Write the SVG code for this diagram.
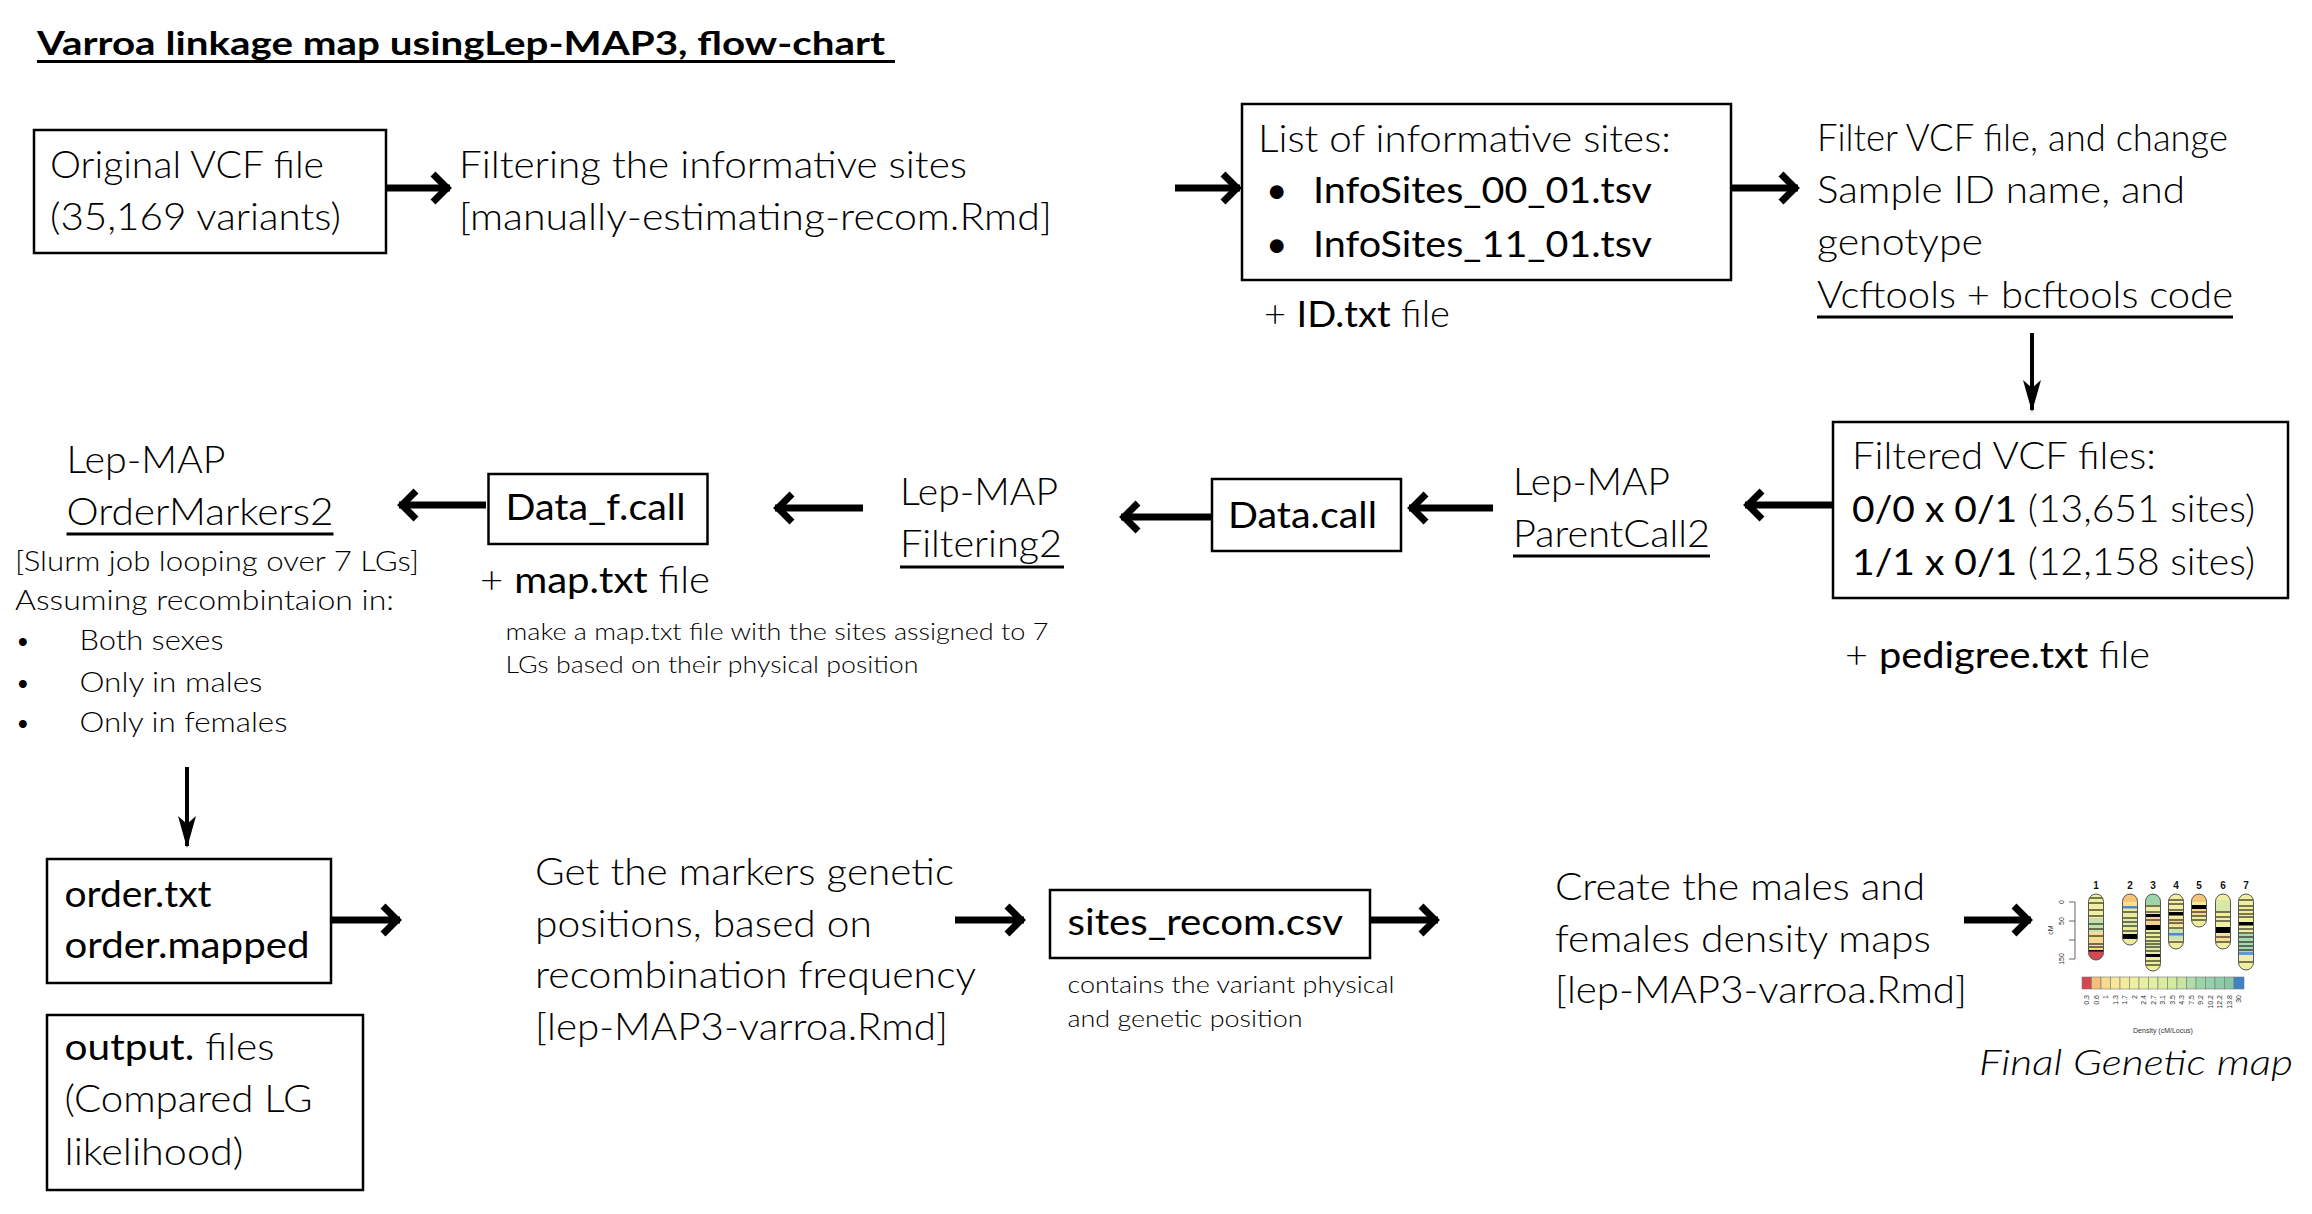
<svg xmlns="http://www.w3.org/2000/svg" width="2312" height="1214" viewBox="0 0 2312 1214">
<style>
text{font-family:Lato,"Open Sans","Liberation Sans",sans-serif;fill:#000}
.t{font-size:37px;font-weight:300}
.r{font-weight:400}
.s{font-size:27px;font-weight:300}
.xs{font-size:23px;font-weight:300}
.ttl{font-size:32px;font-weight:700}
.it{font-size:36px;font-weight:300;font-style:italic}
.box{fill:#fff;stroke:#000;stroke-width:2.5}
.ul{stroke:#000;stroke-width:3}
.arr{stroke:#000;stroke-width:7;fill:none;marker-end:url(#ah)}
.arrs{stroke:#000;stroke-width:4;fill:none;marker-end:url(#ahs)}
.gm{font-family:"Liberation Sans",Arial,sans-serif;font-size:7px;fill:#333}
.gmn{font-family:"Liberation Sans",Arial,sans-serif;font-size:10px;font-weight:700;fill:#111}
.chr{stroke:#555;stroke-width:1}
.cell{stroke:#777;stroke-width:0.6}
</style>
<defs>
<marker id="ah" viewBox="-22 -22 44 44" markerWidth="44" markerHeight="44" refX="0" refY="0" orient="auto" markerUnits="userSpaceOnUse" overflow="visible">
<path d="M-17,-14 L-3,0 L-17,14" fill="none" stroke="#000" stroke-width="7"/>
</marker>
<marker id="ahs" viewBox="-34 -12 40 24" markerWidth="40" markerHeight="24" refX="0" refY="0" orient="auto" markerUnits="userSpaceOnUse" overflow="visible">
<path d="M2,0 L-30,-9 L-22,0 L-30,9 Z" fill="#000"/>
</marker>
<clipPath id="k1"><rect x="2088.5" y="894" width="15" height="66" rx="7.5"/></clipPath>
<clipPath id="k2"><rect x="2122.5" y="894" width="15" height="51" rx="7.5"/></clipPath>
<clipPath id="k3"><rect x="2145.5" y="894" width="15" height="77" rx="7.5"/></clipPath>
<clipPath id="k4"><rect x="2168.5" y="894" width="15" height="55" rx="7.5"/></clipPath>
<clipPath id="k5"><rect x="2191.5" y="894" width="15" height="33" rx="7.5"/></clipPath>
<clipPath id="k6"><rect x="2215.5" y="894" width="15" height="55" rx="7.5"/></clipPath>
<clipPath id="k7"><rect x="2238.5" y="894" width="15" height="76" rx="7.5"/></clipPath>
</defs>
<rect width="2312" height="1214" fill="#fff"/>

<g id="title">
<text class="ttl" x="37" y="55" textLength="848" lengthAdjust="spacingAndGlyphs">Varroa linkage map usingLep-MAP3, flow-chart</text>
<line class="ul" x1="37" y1="61.5" x2="895" y2="61.5"/>
</g>

<g id="connectors">
<line class="arr" x1="386" y1="188" x2="450" y2="188"/>
<line class="arr" x1="1175" y1="188" x2="1240" y2="188"/>
<line class="arr" x1="1731" y1="188" x2="1798" y2="188"/>
<line class="arrs" x1="2032" y1="333" x2="2032" y2="410"/>
<line class="arr" x1="1833" y1="505" x2="1745" y2="505"/>
<line class="arr" x1="1493" y1="508" x2="1409" y2="508"/>
<line class="arr" x1="1212" y1="517" x2="1121" y2="517"/>
<line class="arr" x1="863" y1="508" x2="775" y2="508"/>
<line class="arr" x1="486" y1="505" x2="399" y2="505"/>
<line class="arrs" x1="187" y1="767" x2="187" y2="846"/>
<line class="arr" x1="331" y1="920" x2="400" y2="920"/>
<line class="arr" x1="955" y1="920" x2="1024" y2="920"/>
<line class="arr" x1="1370" y1="920" x2="1438" y2="920"/>
<line class="arr" x1="1964" y1="920" x2="2031" y2="920"/>
</g>

<g id="original-vcf">
<rect class="box" x="34" y="130" width="352" height="123"/>
<text class="t" x="50" y="178" textLength="274" lengthAdjust="spacingAndGlyphs">Original VCF file</text>
<text class="t" x="50" y="230" textLength="291" lengthAdjust="spacingAndGlyphs">(35,169 variants)</text>
</g>

<g id="filtering-informative">
<text class="t" x="459" y="178" textLength="508" lengthAdjust="spacingAndGlyphs">Filtering the informative sites</text>
<text class="t" x="459" y="230" textLength="593" lengthAdjust="spacingAndGlyphs">[manually-estimating-recom.Rmd]</text>
</g>

<g id="info-sites">
<rect class="box" x="1242" y="104" width="489" height="176"/>
<text class="t" x="1258" y="152" textLength="413" lengthAdjust="spacingAndGlyphs">List of informative sites:</text>
<text class="t r" x="1266" y="203">•</text>
<text class="t r" x="1313" y="203" textLength="339" lengthAdjust="spacingAndGlyphs">InfoSites_00_01.tsv</text>
<text class="t r" x="1266" y="257">•</text>
<text class="t r" x="1313" y="257" textLength="339" lengthAdjust="spacingAndGlyphs">InfoSites_11_01.tsv</text>
<text class="t" x="1264" y="327" textLength="186" lengthAdjust="spacingAndGlyphs">+ <tspan class="r">ID.txt</tspan> file</text>
</g>

<g id="filter-vcf">
<text class="t" x="1817" y="151" textLength="411" lengthAdjust="spacingAndGlyphs">Filter VCF file, and change</text>
<text class="t" x="1817" y="203" textLength="368" lengthAdjust="spacingAndGlyphs">Sample ID name, and</text>
<text class="t" x="1817" y="255" textLength="166" lengthAdjust="spacingAndGlyphs">genotype</text>
<text class="t" x="1817" y="308" textLength="416" lengthAdjust="spacingAndGlyphs">Vcftools + bcftools code</text>
<line class="ul" x1="1817" y1="317" x2="2233" y2="317"/>
</g>

<g id="filtered-vcf">
<rect class="box" x="1833" y="422" width="455" height="176"/>
<text class="t" x="1852" y="469" textLength="304" lengthAdjust="spacingAndGlyphs">Filtered VCF files:</text>
<text class="t" x="1852" y="522" textLength="403" lengthAdjust="spacingAndGlyphs"><tspan class="r">0/0 x 0/1</tspan> (13,651 sites)</text>
<text class="t" x="1852" y="575" textLength="403" lengthAdjust="spacingAndGlyphs"><tspan class="r">1/1 x 0/1</tspan> (12,158 sites)</text>
<text class="t" x="1845" y="668" textLength="305" lengthAdjust="spacingAndGlyphs">+ <tspan class="r">pedigree.txt</tspan> file</text>
</g>

<g id="parentcall2">
<text class="t" x="1513" y="495" textLength="157" lengthAdjust="spacingAndGlyphs">Lep-MAP</text>
<text class="t" x="1513" y="547" textLength="197" lengthAdjust="spacingAndGlyphs">ParentCall2</text>
<line class="ul" x1="1513" y1="556" x2="1710" y2="556"/>
</g>

<g id="data-call">
<rect class="box" x="1212" y="479" width="189" height="72"/>
<text class="t r" x="1228" y="528" textLength="149" lengthAdjust="spacingAndGlyphs">Data.call</text>
</g>

<g id="filtering2">
<text class="t" x="900" y="505" textLength="158" lengthAdjust="spacingAndGlyphs">Lep-MAP</text>
<text class="t" x="900" y="557" textLength="162" lengthAdjust="spacingAndGlyphs">Filtering2</text>
<line class="ul" x1="900" y1="567" x2="1064" y2="567"/>
</g>

<g id="data-f-call">
<rect class="box" x="488.5" y="474" width="219" height="70"/>
<text class="t r" x="505.5" y="520" textLength="180" lengthAdjust="spacingAndGlyphs">Data_f.call</text>
<text class="t" x="480" y="593" textLength="230" lengthAdjust="spacingAndGlyphs">+ <tspan class="r">map.txt</tspan> file</text>
<text class="xs" x="505.5" y="640" textLength="543" lengthAdjust="spacingAndGlyphs">make a map.txt file with the sites assigned to 7</text>
<text class="xs" x="505.5" y="673" textLength="413" lengthAdjust="spacingAndGlyphs">LGs based on their physical position</text>
</g>

<g id="ordermarkers2">
<text class="t" x="66.5" y="473" textLength="159" lengthAdjust="spacingAndGlyphs">Lep-MAP</text>
<text class="t" x="66.5" y="525" textLength="267" lengthAdjust="spacingAndGlyphs">OrderMarkers2</text>
<line class="ul" x1="66.5" y1="534" x2="333.5" y2="534"/>
<text class="s" x="15" y="571" textLength="404" lengthAdjust="spacingAndGlyphs">[Slurm job looping over 7 LGs]</text>
<text class="s" x="15" y="610" textLength="379" lengthAdjust="spacingAndGlyphs">Assuming recombintaion in:</text>
<text class="s r" x="15" y="650">•</text>
<text class="s" x="79.5" y="650" textLength="144" lengthAdjust="spacingAndGlyphs">Both sexes</text>
<text class="s r" x="15" y="692">•</text>
<text class="s" x="79.5" y="692" textLength="183" lengthAdjust="spacingAndGlyphs">Only in males</text>
<text class="s r" x="15" y="732">•</text>
<text class="s" x="79.5" y="732" textLength="208" lengthAdjust="spacingAndGlyphs">Only in females</text>
</g>

<g id="order-files">
<rect class="box" x="47" y="859" width="284" height="124"/>
<text class="t r" x="64.5" y="907" textLength="147" lengthAdjust="spacingAndGlyphs">order.txt</text>
<text class="t r" x="64.5" y="958" textLength="245" lengthAdjust="spacingAndGlyphs">order.mapped</text>
</g>

<g id="output-files">
<rect class="box" x="47" y="1015" width="316" height="175"/>
<text class="t" x="64.5" y="1060" textLength="210" lengthAdjust="spacingAndGlyphs"><tspan class="r">output.</tspan> files</text>
<text class="t" x="64.5" y="1112" textLength="248" lengthAdjust="spacingAndGlyphs">(Compared LG</text>
<text class="t" x="64.5" y="1165" textLength="179" lengthAdjust="spacingAndGlyphs">likelihood)</text>
</g>

<g id="genetic-positions">
<text class="t" x="535" y="885" textLength="419" lengthAdjust="spacingAndGlyphs">Get the markers genetic</text>
<text class="t" x="535" y="937" textLength="337" lengthAdjust="spacingAndGlyphs">positions, based on</text>
<text class="t" x="535" y="988" textLength="441" lengthAdjust="spacingAndGlyphs">recombination frequency</text>
<text class="t" x="535" y="1040" textLength="413" lengthAdjust="spacingAndGlyphs">[lep-MAP3-varroa.Rmd]</text>
</g>

<g id="sites-recom">
<rect class="box" x="1050" y="890" width="320" height="68"/>
<text class="t r" x="1067.5" y="935" textLength="275.5" lengthAdjust="spacingAndGlyphs">sites_recom.csv</text>
<text class="xs" x="1067.5" y="993" textLength="327" lengthAdjust="spacingAndGlyphs">contains the variant physical</text>
<text class="xs" x="1067.5" y="1027" textLength="235" lengthAdjust="spacingAndGlyphs">and genetic position</text>
</g>

<g id="density-maps">
<text class="t" x="1555" y="900" textLength="370" lengthAdjust="spacingAndGlyphs">Create the males and</text>
<text class="t" x="1555" y="952" textLength="376" lengthAdjust="spacingAndGlyphs">females density maps</text>
<text class="t" x="1555" y="1003" textLength="412" lengthAdjust="spacingAndGlyphs">[lep-MAP3-varroa.Rmd]</text>
</g>

<g id="final-genetic-map">
<g id="chrom-numbers">
<text class="gmn" x="2096" y="889" text-anchor="middle">1</text>
<text class="gmn" x="2130" y="889" text-anchor="middle">2</text>
<text class="gmn" x="2153" y="889" text-anchor="middle">3</text>
<text class="gmn" x="2176" y="889" text-anchor="middle">4</text>
<text class="gmn" x="2199" y="889" text-anchor="middle">5</text>
<text class="gmn" x="2223" y="889" text-anchor="middle">6</text>
<text class="gmn" x="2246" y="889" text-anchor="middle">7</text>
</g>
<g id="axis">
<path d="M2069,902 H2075 V959 H2069 M2069,921 H2075 M2069,940 H2075" fill="none" stroke="#666" stroke-width="1"/>
<text class="gm" transform="translate(2064,902) rotate(-90)" text-anchor="middle">0</text>
<text class="gm" transform="translate(2064,921) rotate(-90)" text-anchor="middle">50</text>
<text class="gm" transform="translate(2064,959) rotate(-90)" text-anchor="middle">150</text>
<text class="gm" transform="translate(2053,930) rotate(-90)" text-anchor="middle">cM</text>
</g>
<g id="chr1" clip-path="url(#k1)">
<rect x="2088" y="894" width="16" height="66" fill="#f1efa2"/>
<rect x="2088" y="918" width="16" height="14" fill="#c6e2ac"/>
<rect x="2088" y="932" width="16" height="18" fill="#f7d98f"/>
<rect x="2088" y="950" width="16" height="10" fill="#d24a50"/>
<path d="M2088,898H2104M2088,903H2104M2088,910H2104M2088,916H2104M2088,924H2104M2088,929H2104M2088,936H2104M2088,944H2104M2088,947H2104" stroke="#000" stroke-width="1.2"/>
<rect x="2088" y="950" width="16" height="1.5" fill="#000"/>
</g>
<rect class="chr" x="2088.5" y="894" width="15" height="66" rx="7.5" fill="none"/>
<g id="chr2" clip-path="url(#k2)">
<rect x="2122" y="894" width="16" height="51" fill="#ecec9e"/>
<rect x="2122" y="894" width="16" height="8" fill="#f5c57a"/>
<rect x="2122" y="902" width="16" height="4" fill="#f8df9c"/>
<rect x="2122" y="906" width="16" height="2.5" fill="#4a8cc8"/>
<rect x="2122" y="920" width="16" height="8" fill="#dcebaa"/>
<path d="M2122,912H2138M2122,918H2138M2122,922H2138M2122,926H2138M2122,931H2138" stroke="#000" stroke-width="1.2"/>
<rect x="2122" y="934" width="16" height="5" fill="#000"/>
</g>
<rect class="chr" x="2122.5" y="894" width="15" height="51" rx="7.5" fill="none"/>
<g id="chr3" clip-path="url(#k3)">
<rect x="2145" y="894" width="16" height="77" fill="#eeee9f"/>
<rect x="2145" y="894" width="16" height="11" fill="#9dd4a8"/>
<rect x="2145" y="916" width="16" height="12" fill="#f6d292"/>
<rect x="2145" y="940" width="16" height="12" fill="#d8e8a8"/>
<path d="M2145,906H2161M2145,912H2161M2145,920H2161M2145,933H2161M2145,937H2161M2145,941H2161M2145,944H2161M2145,947H2161M2145,951H2161M2145,961H2161M2145,965H2161" stroke="#000" stroke-width="1.2"/>
<rect x="2145" y="914" width="16" height="3" fill="#000"/>
<rect x="2145" y="925" width="16" height="5" fill="#000"/>
<rect x="2145" y="954" width="16" height="3" fill="#000"/>
</g>
<rect class="chr" x="2145.5" y="894" width="15" height="77" rx="7.5" fill="none"/>
<g id="chr4" clip-path="url(#k4)">
<rect x="2168" y="894" width="16" height="55" fill="#f1eea0"/>
<rect x="2168" y="918" width="16" height="8" fill="#f7dc96"/>
<rect x="2168" y="929" width="16" height="11" fill="#c8e2b0"/>
<rect x="2168" y="933" width="16" height="2.5" fill="#4a8cc8"/>
<path d="M2168,900H2184M2168,904H2184M2168,910H2184M2168,920H2184M2168,923H2184M2168,928H2184M2168,942H2184" stroke="#000" stroke-width="1.2"/>
<rect x="2168" y="912" width="16" height="3.5" fill="#000"/>
</g>
<rect class="chr" x="2168.5" y="894" width="15" height="55" rx="7.5" fill="none"/>
<g id="chr5" clip-path="url(#k5)">
<rect x="2191" y="894" width="16" height="33" fill="#efeda0"/>
<rect x="2191" y="894" width="16" height="8" fill="#f5c57a"/>
<rect x="2191" y="909" width="16" height="7" fill="#f6d690"/>
<rect x="2191" y="905" width="16" height="4" fill="#000"/>
<path d="M2191,912H2207M2191,916H2207M2191,920H2207" stroke="#000" stroke-width="1.2"/>
</g>
<rect class="chr" x="2191.5" y="894" width="15" height="33" rx="7.5" fill="none"/>
<g id="chr6" clip-path="url(#k6)">
<rect x="2215" y="894" width="16" height="55" fill="#f0eea0"/>
<rect x="2215" y="900" width="16" height="12" fill="#d8e8a8"/>
<rect x="2215" y="934" width="16" height="8" fill="#f6dc96"/>
<path d="M2215,912H2231M2215,917H2231M2215,921H2231M2215,937H2231M2215,942H2231" stroke="#000" stroke-width="1.2"/>
<rect x="2215" y="927" width="16" height="6" fill="#000"/>
</g>
<rect class="chr" x="2215.5" y="894" width="15" height="55" rx="7.5" fill="none"/>
<g id="chr7" clip-path="url(#k7)">
<rect x="2238" y="894" width="16" height="76" fill="#f0eea0"/>
<rect x="2238" y="934" width="16" height="18" fill="#a8d8b0"/>
<rect x="2238" y="952" width="16" height="3" fill="#5a9cd0"/>
<path d="M2238,900H2254M2238,906H2254M2238,910H2254M2238,914H2254M2238,917H2254M2238,929H2254M2238,933H2254M2238,937H2254M2238,942H2254M2238,946H2254M2238,950H2254M2238,962H2254" stroke="#000" stroke-width="1.2"/>
<rect x="2238" y="922" width="16" height="3.5" fill="#000"/>
</g>
<rect class="chr" x="2238.5" y="894" width="15" height="76" rx="7.5" fill="none"/>
<g id="density-scale">
<rect class="cell" x="2082" y="977" width="9.5" height="12" fill="#d5464e"/>
<rect class="cell" x="2091.5" y="977" width="9.5" height="12" fill="#f5c07a"/>
<rect class="cell" x="2101" y="977" width="9.5" height="12" fill="#f8dc8e"/>
<rect class="cell" x="2110.5" y="977" width="9.5" height="12" fill="#f8e898"/>
<rect class="cell" x="2120" y="977" width="9.5" height="12" fill="#f3ec9c"/>
<rect class="cell" x="2129.5" y="977" width="9.5" height="12" fill="#eef0a0"/>
<rect class="cell" x="2139" y="977" width="9.5" height="12" fill="#e8f0a0"/>
<rect class="cell" x="2148.5" y="977" width="9.5" height="12" fill="#e2f0a0"/>
<rect class="cell" x="2158" y="977" width="9.5" height="12" fill="#dcee9c"/>
<rect class="cell" x="2167.5" y="977" width="9.5" height="12" fill="#d4ec9e"/>
<rect class="cell" x="2177" y="977" width="9.5" height="12" fill="#c8e6a0"/>
<rect class="cell" x="2186.5" y="977" width="9.5" height="12" fill="#b0dca8"/>
<rect class="cell" x="2196" y="977" width="9.5" height="12" fill="#9cd4aa"/>
<rect class="cell" x="2205.5" y="977" width="9.5" height="12" fill="#94d0ac"/>
<rect class="cell" x="2215" y="977" width="9.5" height="12" fill="#8ccca8"/>
<rect class="cell" x="2224.5" y="977" width="9.5" height="12" fill="#86c8a6"/>
<rect class="cell" x="2234" y="977" width="10" height="12" fill="#3e84c4"/>
<text class="gm" transform="translate(2089,995) rotate(-90)" text-anchor="end">0.3</text>
<text class="gm" transform="translate(2098.5,995) rotate(-90)" text-anchor="end">0.6</text>
<text class="gm" transform="translate(2108,995) rotate(-90)" text-anchor="end">1</text>
<text class="gm" transform="translate(2117.5,995) rotate(-90)" text-anchor="end">1.3</text>
<text class="gm" transform="translate(2127,995) rotate(-90)" text-anchor="end">1.7</text>
<text class="gm" transform="translate(2136.5,995) rotate(-90)" text-anchor="end">2</text>
<text class="gm" transform="translate(2146,995) rotate(-90)" text-anchor="end">2.4</text>
<text class="gm" transform="translate(2155.5,995) rotate(-90)" text-anchor="end">2.7</text>
<text class="gm" transform="translate(2165,995) rotate(-90)" text-anchor="end">3.1</text>
<text class="gm" transform="translate(2174.5,995) rotate(-90)" text-anchor="end">3.5</text>
<text class="gm" transform="translate(2184,995) rotate(-90)" text-anchor="end">4.3</text>
<text class="gm" transform="translate(2193.5,995) rotate(-90)" text-anchor="end">7.5</text>
<text class="gm" transform="translate(2203,995) rotate(-90)" text-anchor="end">9.2</text>
<text class="gm" transform="translate(2212.5,995) rotate(-90)" text-anchor="end">10.2</text>
<text class="gm" transform="translate(2222,995) rotate(-90)" text-anchor="end">12.2</text>
<text class="gm" transform="translate(2231.5,995) rotate(-90)" text-anchor="end">13.8</text>
<text class="gm" transform="translate(2241,995) rotate(-90)" text-anchor="end">30</text>
<text class="gm" x="2163" y="1033" text-anchor="middle">Density (cM/Locus)</text>
</g>
<text class="it" x="1979" y="1075" textLength="314" lengthAdjust="spacingAndGlyphs">Final Genetic map</text>
</g>
</svg>
